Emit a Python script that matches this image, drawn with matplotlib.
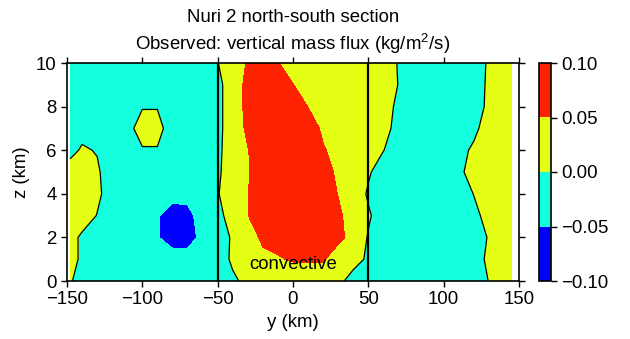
import matplotlib
matplotlib.use("Agg")
import matplotlib.pyplot as plt
import numpy as np

plt.rcParams["font.family"] = ["Liberation Sans", "DejaVu Sans"]
plt.rcParams["mathtext.default"] = "regular"
plt.rcParams["font.size"] = 13.4

# grid of the section
y_km = [-148, -140, -130, -120, -110, -100, -90, -80, -70, -60, -50, -40, -30, -20, -10,
        0, 10, 20, 30, 40, 50, 60, 70, 80, 90, 100, 110, 120, 130, 140, 145]
z_km = [0, 1, 2, 3, 4, 5, 6, 7, 8, 9, 10]

# vertical mass flux (kg/m2/s), one row per height
flux_z0 = [0.005, -0.02, -0.02, -0.02, -0.02, -0.02, -0.02, -0.02, -0.02, -0.02, -0.02, -0.01, 0.015, 0.01, 0.01,
           0.01, 0.01, 0.01, 0.01, -0.015, -0.02, -0.02, -0.02, -0.02, -0.02, -0.02, -0.02, -0.02, 0.001, 0.02, 0.02]
flux_z1 = [0.01, -0.005, -0.02, -0.02, -0.02, -0.02, -0.02, -0.035, -0.035, -0.02, -0.03, 0.01, 0.03, 0.04, 0.045,
           0.056, 0.058, 0.056, 0.018, 0.014, -0.006, -0.02, -0.02, -0.02, -0.02, -0.02, -0.02, -0.02, 0.009, 0.02, 0.02]
flux_z2 = [0.01, -0.005, -0.02, -0.02, -0.02, -0.025, -0.048, -0.065, -0.065, -0.04, -0.02, 0.005, 0.03, 0.058, 0.07,
           0.075, 0.075, 0.07, 0.065, 0.03, -0.003, -0.02, -0.02, -0.02, -0.02, -0.02, -0.02, -0.02, 0.003, 0.02, 0.02]
flux_z3 = [0.02, 0.015, -0.001, -0.02, -0.02, -0.025, -0.048, -0.06, -0.06, -0.035, -0.02, 0.03, 0.049, 0.08, 0.08,
           0.08, 0.08, 0.08, 0.06, 0.025, 0.005, -0.02, -0.02, -0.02, -0.02, -0.02, -0.02, -0.01, 0.013, 0.02, 0.02]
flux_z4 = [0.02, 0.02, 0.006, -0.014, -0.02, -0.02, -0.025, -0.042, -0.04, -0.025, -0.002, 0.018, 0.049, 0.08, 0.08,
           0.08, 0.08, 0.08, 0.048, 0.025, -0.005, -0.02, -0.02, -0.02, -0.02, -0.02, -0.02, 0.001, 0.02, 0.02, 0.02]
flux_z5 = [0.015, 0.02, 0.005, -0.02, -0.02, -0.02, -0.02, -0.02, -0.02, -0.02, -0.006, 0.02, 0.045, 0.08, 0.08,
           0.08, 0.08, 0.08, 0.036, 0.025, 0.005, -0.02, -0.02, -0.02, -0.02, -0.02, -0.012, 0.022, 0.02, 0.02, 0.02]
flux_z6 = [-0.01, 0.004, -0.002, -0.02, -0.02, -0.004, -0.004, -0.02, -0.02, -0.02, -0.008, 0.02, 0.048, 0.08, 0.08,
           0.08, 0.08, 0.055, 0.03, 0.025, 0.015, 0.001, -0.02, -0.02, -0.02, -0.02, -0.013, 0.007, 0.02, 0.02, 0.02]
flux_z7 = [-0.02, -0.011, -0.02, -0.02, -0.015, 0.02, 0.02, -0.03, -0.02, -0.02, -0.01, 0.02, 0.06, 0.08, 0.08,
           0.08, 0.08, 0.04, 0.025, 0.02, 0.015, 0.01, -0.01, -0.02, -0.02, -0.02, -0.02, -0.01, 0.02, 0.02, 0.02]
flux_z8 = [-0.02, -0.02, -0.02, -0.02, -0.02, -0.003, -0.003, -0.02, -0.02, -0.02, -0.01, 0.02, 0.065, 0.08, 0.08,
           0.08, 0.049, 0.03, 0.02, 0.02, 0.02, 0.02, -0.01, -0.02, -0.02, -0.02, -0.02, -0.02, 0.009, 0.02, 0.02]
flux_z9 = [-0.02, -0.02, -0.02, -0.02, -0.02, -0.02, -0.02, -0.02, -0.02, -0.02, -0.01, 0.02, 0.065, 0.08, 0.08,
           0.051, 0.03, 0.02, 0.02, 0.02, 0.02, 0.02, -0.001, -0.02, -0.02, -0.02, -0.02, -0.02, 0.007, 0.02, 0.02]
flux_z10 = [-0.02, -0.02, -0.02, -0.02, -0.02, -0.02, -0.02, -0.02, -0.02, -0.02, -0.001, 0.02, 0.055, 0.07, 0.052,
            0.03, 0.02, 0.02, 0.02, 0.02, 0.02, 0.02, -0.0025, -0.02, -0.02, -0.02, -0.02, -0.02, 0.005, 0.02, 0.02]

levels = [-0.10, -0.05, 0.00, 0.05, 0.10]
level_colors = ["#0000ff", "#14ffdd", "#e5ff14", "#ff2200"]
cbar_labels = ["\u22120.10", "\u22120.05", "0.00", "0.05", "0.10"]

flux = np.array([flux_z0, flux_z1, flux_z2, flux_z3, flux_z4, flux_z5,
                 flux_z6, flux_z7, flux_z8, flux_z9, flux_z10])

fig = plt.figure(figsize=(6.3, 3.39), dpi=100)
ax = fig.add_axes([67/630, 1-281/339, 452/630, 218/339])
cax = fig.add_axes([539/630, 1-281/339, 12/630, 218/339])

cf = ax.contourf(y_km, z_km, flux, levels=levels, colors=level_colors)
ax.contour(y_km, z_km, flux, levels=[0.0], colors="k", linewidths=0.9)

ax.axvline(-50, color="k", lw=1.6)
ax.axvline(50, color="k", lw=1.6)
ax.text(0, 0.75, "convective", ha="center", va="center")

ax.set_xlim(-150, 150)
ax.set_ylim(0, 10)
ax.set_xticks([-150, -100, -50, 0, 50, 100, 150])
ax.set_yticks([0, 2, 4, 6, 8, 10])
ax.set_xlabel("y (km)")
ax.set_ylabel("z (km)")
ax.tick_params(direction="out", length=4, width=1, top=True, right=True)
for s in ax.spines.values():
    s.set_linewidth(1.2)

fig.text(293/630, 1-17/339, "Nuri 2 north-south section", ha="center", va="center")
fig.text(293/630, 1-44/339, "Observed: vertical mass flux (kg/m$^2$/s)", ha="center", va="center")

cb = fig.colorbar(cf, cax=cax, ticks=levels)
cb.set_ticklabels(cbar_labels)
cb.outline.set_linewidth(1.2)
cax.tick_params(direction="out", length=4, width=1)

fig.savefig("out.png", dpi=100)
